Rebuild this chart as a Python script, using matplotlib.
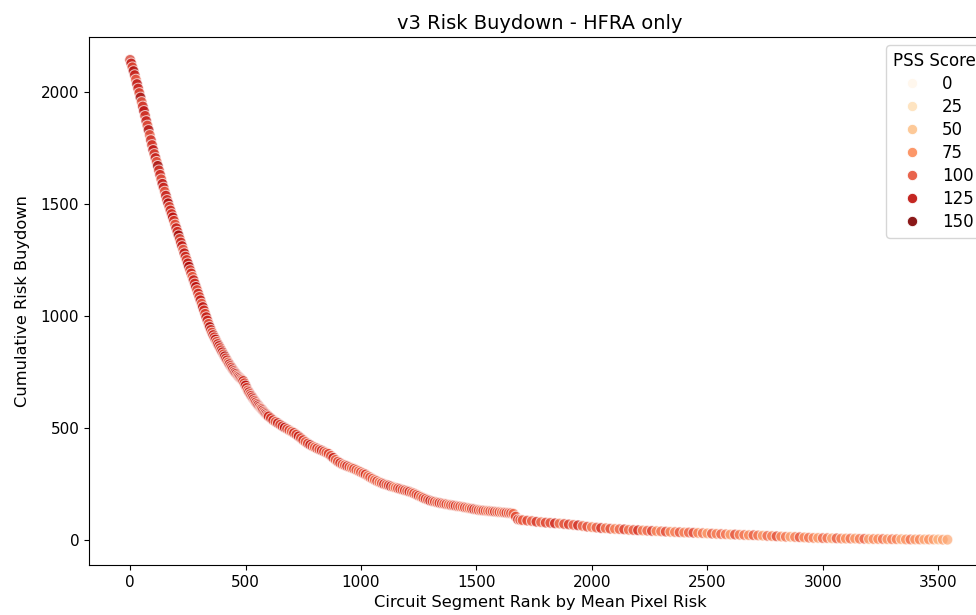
import matplotlib
matplotlib.use("Agg")
import matplotlib.pyplot as plt
from matplotlib.colors import Normalize
from matplotlib.lines import Line2D

# cumulative risk buydown read off the curve, sampled along the rank axis
# ranks 0..600 every 5
buydown_a = [2143, 2127, 2110, 2093, 2075, 2055, 2035, 2015, 1995, 1975,
             1955, 1935, 1915, 1893, 1870, 1850, 1830, 1808, 1785, 1763,
             1741, 1723, 1705, 1688, 1670, 1650, 1630, 1610, 1590, 1573,
             1555, 1537, 1518, 1503, 1487, 1471, 1455, 1440, 1425, 1408,
             1392, 1376, 1360, 1344, 1328, 1312, 1296, 1280, 1265, 1250,
             1235, 1220, 1205, 1190, 1175, 1160, 1145, 1130, 1116, 1100,
             1085, 1070, 1055, 1040, 1025, 1010, 995, 980, 965, 951,
             938, 926, 915, 905, 895, 885, 875, 866, 857, 847,
             838, 829, 820, 811, 802, 793, 785, 777, 770, 762,
             755, 748, 742, 736, 730, 725, 720, 715, 710, 700,
             690, 679, 668, 660, 652, 644, 637, 629, 622, 615,
             608, 602, 596, 590, 585, 579, 573, 567, 562, 557, 552]
# ranks 610..1700 every 10
buydown_b = [544, 535, 528, 522, 515, 508, 502, 496, 490, 484,
             478, 471, 463, 455, 446, 438, 431, 425, 419, 414,
             409, 404, 400, 395, 390, 385, 376, 367, 358, 350,
             344, 338, 334, 330, 326, 322, 318, 313, 308, 303,
             298, 293, 286, 280, 274, 268, 263, 258, 254, 250,
             247, 244, 240, 237, 234, 231, 228, 225, 222, 219,
             216, 212, 208, 203, 198, 193, 188, 184, 180, 176,
             173, 171, 168, 166, 164, 162, 160, 158, 156, 155,
             153, 151, 150, 148, 146, 144, 142, 140, 138, 136,
             134, 133, 132, 131, 130, 129, 128, 127, 126, 125,
             124, 123, 122, 121, 120, 118, 105, 92, 90, 89]
# ranks 1720..3540 every 20
buydown_c = [87, 85, 82, 80, 78, 77, 75, 74, 72, 70,
             68, 66, 63, 60, 58, 56, 54, 53, 51, 50,
             49, 48, 46, 45, 44, 43, 42, 41, 40, 39,
             38, 37, 36, 35, 34, 34, 33, 32, 31, 30,
             29, 28, 27, 26, 25, 25, 24, 23, 22, 22,
             21, 20, 19, 18, 17, 16, 15, 15, 14, 13,
             12, 11, 10, 10, 9, 9, 8, 8, 7, 7,
             7, 7, 6, 6, 5, 5, 5, 5, 4, 4,
             4, 4, 3, 3, 3, 3, 3, 3, 3, 3, 2, 2]

# PSS score of each sampled segment (colour)
pss_a = [115, 125, 105, 135, 120, 100, 130, 120, 110, 140,
         100, 120, 130, 115, 125, 105, 135, 100, 120, 115,
         130, 110, 125, 100, 140, 115, 120, 105, 130, 120,
         100, 125, 115, 135, 105, 120, 115, 130, 110, 100,
         125, 115, 140, 105, 120, 125, 95, 130, 115, 110,
         125, 135, 105, 120, 95, 125, 115, 130, 100, 120,
         110, 125, 95, 130, 115, 105, 125, 120, 100, 135,
         115, 100, 125, 110, 130, 95, 120, 125, 105, 115,
         125, 100, 135, 110, 120, 90, 125, 115, 105, 130,
         100, 120, 125, 95, 115, 125, 110, 100, 120, 105,
         130, 115, 95, 125, 100, 120, 110, 125, 100, 115,
         105, 125, 120, 90, 110, 125, 100, 115, 125, 100, 120]
pss_b = [110, 120, 95, 125, 105, 115, 130, 100, 110, 90,
         120, 105, 125, 100, 115, 95, 110, 125, 105, 90,
         115, 100, 120, 105, 95, 110, 100, 125, 90, 105,
         115, 100, 95, 120, 105, 85, 110, 100, 90, 105,
         95, 115, 85, 105, 100, 90, 110, 85, 100, 120,
         95, 105, 125, 90, 85, 105, 115, 100, 110, 95,
         120, 90, 105, 100, 115, 85, 105, 110, 95, 125,
         100, 105, 90, 115, 105, 95, 110, 85, 105, 100,
         115, 95, 105, 90, 110, 100, 85, 105, 120, 95,
         105, 90, 110, 100, 85, 105, 95, 115, 90, 105,
         85, 100, 110, 95, 105, 90, 105, 115, 100, 95]
pss_c = [105, 95, 115, 90, 110, 100, 120, 85, 105, 110,
         95, 120, 90, 105, 80, 100, 115, 85, 105, 80,
         95, 110, 85, 100, 115, 80, 95, 110, 75, 90,
         105, 75, 85, 100, 80, 95, 105, 75, 90, 70,
         100, 80, 95, 85, 70, 105, 80, 90, 75, 100,
         85, 70, 95, 80, 105, 75, 90, 65, 85, 100,
         75, 90, 80, 70, 95, 85, 65, 100, 80, 75,
         90, 70, 85, 95, 65, 80, 75, 90, 70, 85,
         80, 65, 75, 90, 70, 80, 65, 75, 70, 60,
         70, 65]

pss_ticks = [0, 25, 50, 75, 100, 125, 150]

rank_a = list(range(0, 5 * len(buydown_a), 5))
rank_b = list(range(610, 610 + 10 * len(buydown_b), 10))
rank_c = list(range(1720, 1720 + 20 * len(buydown_c), 20))

ranks = rank_a + rank_b + rank_c
buydown = buydown_a + buydown_b + buydown_c
pss = (pss_a + pss_b + pss_c)[:len(ranks)]
ranks = ranks[:len(pss)]
buydown = buydown[:len(pss)]

cmap = plt.get_cmap("OrRd")
norm = Normalize(vmin=0, vmax=150)

fig = plt.figure(figsize=(9.76, 6.15), dpi=100)
ax = fig.add_axes([0.0912, 0.0813, 0.924, 0.8585])

ax.scatter(ranks, buydown, c=pss, cmap=cmap, norm=norm, s=60, alpha=0.7,
           edgecolors="white", linewidths=0.75)

ax.set_xlim(-178, 3728)
ax.set_ylim(-111, 2245)
ax.set_xticks([0, 500, 1000, 1500, 2000, 2500, 3000, 3500])
ax.set_yticks([0, 500, 1000, 1500, 2000])
ax.tick_params(labelsize=11)
ax.set_xlabel("Circuit Segment Rank by Mean Pixel Risk", fontsize=11.7)
ax.set_ylabel("Cumulative Risk Buydown", fontsize=11.7, labelpad=8)
ax.set_title("v3 Risk Buydown - HFRA only", fontsize=14)

handles = [Line2D([], [], marker="o", linestyle="", markersize=7.5,
                  markerfacecolor=cmap(norm(v)), markeredgecolor="white",
                  markeredgewidth=0.75, alpha=0.9) for v in pss_ticks]
ax.legend(handles, [str(v) for v in pss_ticks], title="PSS Score",
          loc="upper right", fontsize=12, title_fontsize=12,
          labelspacing=0.3)

fig.savefig("out.png", dpi=100)
